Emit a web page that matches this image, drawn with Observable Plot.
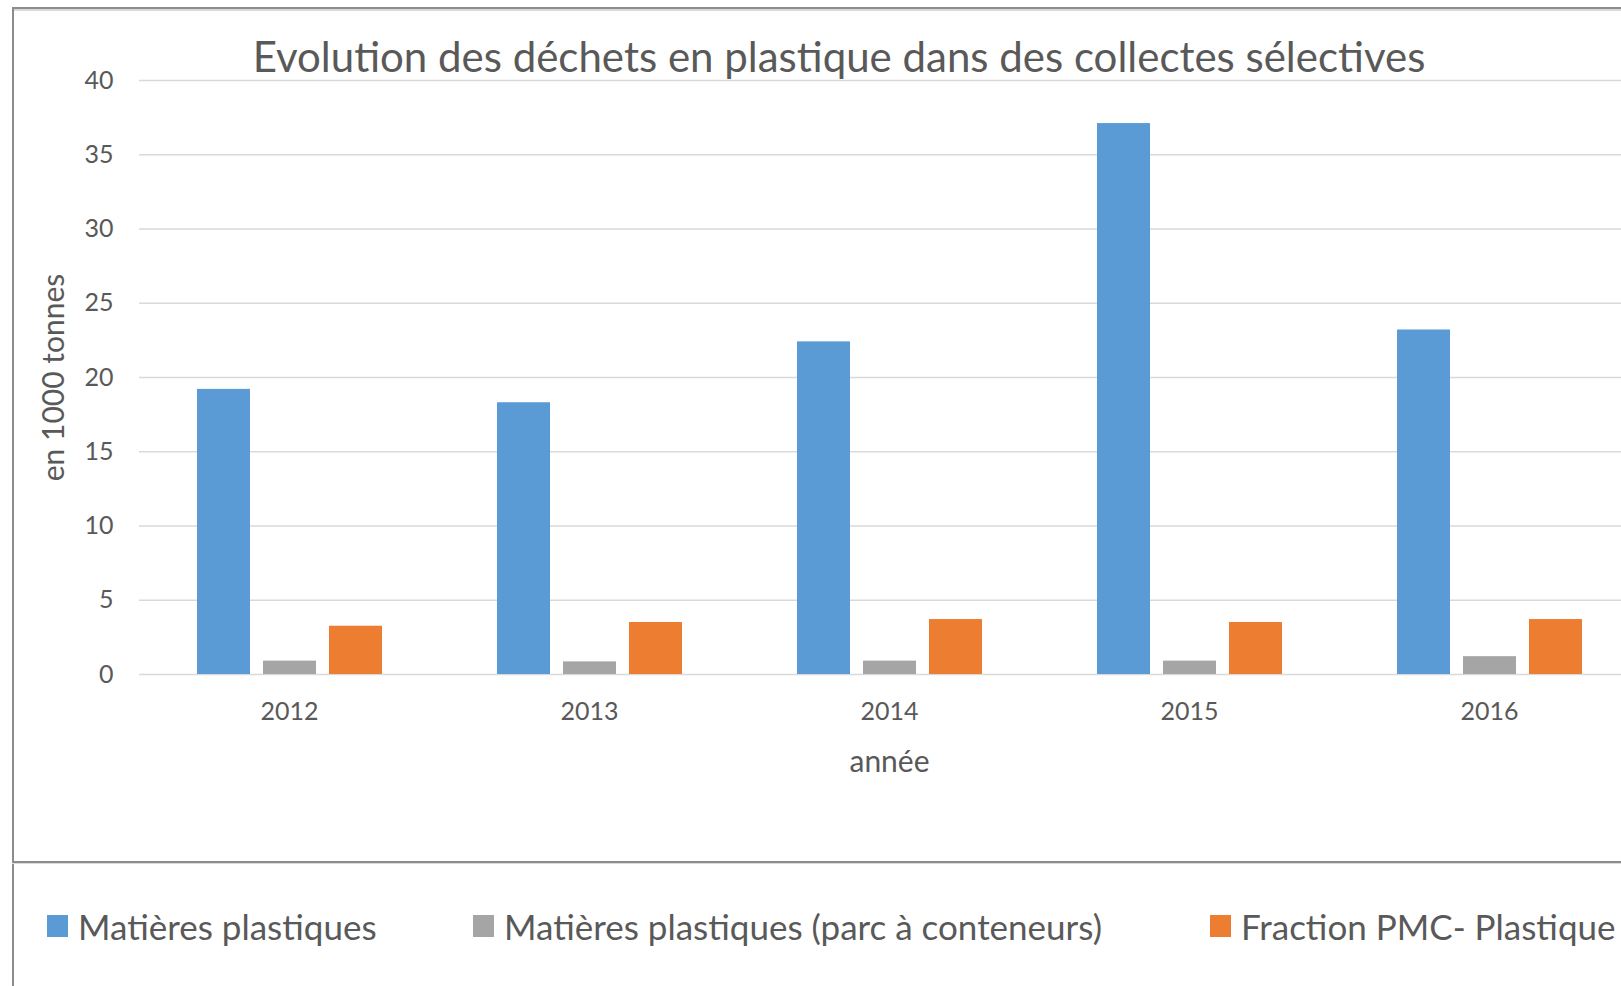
<!DOCTYPE html>
<html>
<head>
<meta charset="utf-8">
<script src="https://cdn.jsdelivr.net/npm/d3@7"></script>
<script src="https://cdn.jsdelivr.net/npm/@observablehq/plot@0.6"></script>
<style>
  html, body { margin: 0; padding: 0; background: #fff; width: 1621px; height: 986px; overflow: hidden; }
  #frame { position: absolute; left: 12px; top: 7px; width: 1720px; height: 1100px;
           border-left: 2px solid #8c8c8c; border-top: 2px solid #8c8c8c; box-sizing: border-box; }
  #frame::after { content: ""; position: absolute; left: 0; right: 0; top: 0; border-top: 2px solid #dadada; }
  #title { position: absolute; left: 0; top: 36px; width: 1678px; text-align: center;
           font-family: Lato, sans-serif; font-size: 42px; line-height: 40px; color: #595959; white-space: nowrap; }
  #chart { position: absolute; left: 0; top: 60px; width: 1660px; }
  #chart svg { max-width: none !important; width: 1660px; height: 730px; }
  #chart g[aria-label="y-axis label"] text { font-size: 30px; }
  #chart g[aria-label="fx-axis label"] text { font-size: 30px; }
  #divider { position: absolute; left: 12px; top: 861px; width: 1720px; border-top: 2px solid #8c8c8c; }
  #divider::after { content: ""; position: absolute; left: 0; right: 0; top: 0; border-top: 1px solid #dadada; }
  #legend { position: absolute; left: 0; top: 905px; width: 1621px; height: 42px;
            font-family: Lato, sans-serif; font-size: 35px; color: #595959; }
  .item { position: absolute; top: 0; height: 42px; display: flex; align-items: center; white-space: nowrap; }
  .sw { width: 21px; height: 22px; margin-right: 10px; flex: none; }
</style>
</head>
<body>
<div id="frame"></div>
<div id="title">Evolution des déchets en plastique dans des collectes sélectives</div>
<div id="chart"></div>
<div id="divider"></div>
<div id="legend"></div>
<script>
const years = ["2012", "2013", "2014", "2015", "2016"];
const series = ["Matières plastiques", "Matières plastiques (parc à conteneurs)", "Fraction PMC- Plastique"];
const matieresPlastiques = [19.2, 18.3, 22.4, 37.1, 23.2];
const parcConteneurs = [0.9, 0.85, 0.9, 0.9, 1.2];
const fractionPMC = [3.25, 3.5, 3.7, 3.5, 3.7];
const colors = ["#5B9BD5", "#A5A5A5", "#ED7D31"];
const yTicks = [0, 5, 10, 15, 20, 25, 30, 35, 40];

const valuesBySeries = [matieresPlastiques, parcConteneurs, fractionPMC];
const rows = [];
years.forEach((year, i) => {
  series.forEach((s, j) => rows.push({year, series: s, value: valuesBySeries[j][i]}));
});

const chart = Plot.plot({
  width: 1660,
  height: 730,
  marginTop: 20,
  marginBottom: 116,
  marginLeft: 139,
  marginRight: 21,
  style: {fontFamily: "Lato, sans-serif", fontSize: "25px", color: "#595959", background: "transparent", maxWidth: "none"},
  facet: {data: rows, x: "year"},
  fx: {domain: years, padding: 0, tickSize: 0, tickPadding: 28, label: "année", labelAnchor: "center", labelOffset: 97, labelArrow: false},
  x: {domain: series, paddingInner: 0.2, paddingOuter: 0.856, axis: null},
  y: {domain: [0, 40], ticks: yTicks, tickSize: 0, tickPadding: 26, label: "en 1000 tonnes", labelAnchor: "center", labelOffset: 97, labelArrow: false},
  color: {domain: series, range: colors},
  marks: [
    Plot.ruleY(yTicks, {stroke: "#d9d9d9", strokeWidth: 1.5}),
    Plot.barY(rows, {x: "series", y: "value", fill: "series"})
  ]
});
document.getElementById("chart").appendChild(chart);

const legendLefts = [47, 473, 1210];
const legend = d3.select("#legend");
series.forEach((s, j) => {
  const item = legend.append("div").attr("class", "item").style("left", legendLefts[j] + "px");
  item.append("div").attr("class", "sw").style("background", colors[j]);
  item.append("span").text(s);
});
</script>
</body>
</html>
